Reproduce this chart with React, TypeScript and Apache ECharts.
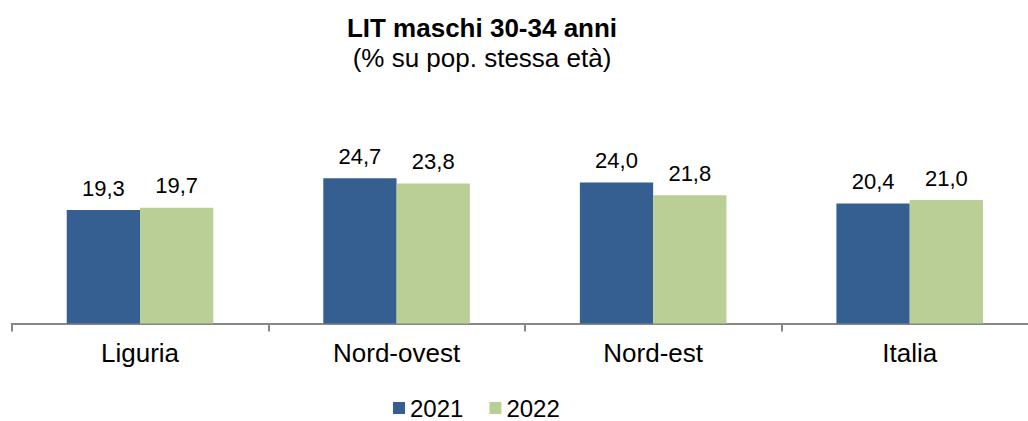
import React, { useEffect, useRef } from "react";
import * as echarts from "echarts";

const categories = ["Liguria", "Nord-ovest", "Nord-est", "Italia"];
const values2021 = [19.3, 24.7, 24.0, 20.4];
const values2022 = [19.7, 23.8, 21.8, 21.0];
const seriesNames = ["2021", "2022"];

const FONT = "'Liberation Sans', Arial, sans-serif";

export default function App() {
  const ref = useRef<HTMLDivElement>(null);
  useEffect(() => {
    if (!ref.current) return;
    const chart = echarts.init(ref.current, null, { renderer: "svg" });
    const fmt = (p: any) => Number(p.value).toFixed(1).replace(".", ",");
    const label = {
      show: true,
      position: "top",
      distance: 11,
      formatter: fmt,
      color: "#000",
      fontSize: 22,
      fontFamily: FONT,
    };
    chart.setOption({
      animation: false,
      backgroundColor: "#fff",
      textStyle: { fontFamily: FONT },
      title: {
        text: "LIT maschi 30-34 anni",
        subtext: "(% su pop. stessa età)",
        left: 477,
        top: 10,
        textAlign: "center",
        itemGap: 4,
        textStyle: { fontSize: 26, lineHeight: 26, fontWeight: "bold", color: "#000", fontFamily: FONT },
        subtextStyle: { fontSize: 26, lineHeight: 26, color: "#000", fontFamily: FONT },
      },
      legend: {
        data: seriesNames,
        left: 393,
        top: 396,
        padding: 0,
        icon: "rect",
        itemWidth: 12,
        itemHeight: 12,
        itemGap: 26,
        textStyle: { fontSize: 24, color: "#000", fontFamily: FONT },
      },
      grid: { left: 11.75, right: 0, top: 147.1, bottom: 97.5, containLabel: false },
      xAxis: {
        type: "category",
        data: categories,
        axisLine: { show: true, lineStyle: { color: "#878787", width: 2 } },
        axisTick: { show: true, length: 8, lineStyle: { color: "#878787", width: 2 } },
        axisLabel: { fontSize: 26, color: "#000", margin: 16, fontFamily: FONT },
      },
      yAxis: {
        type: "value",
        min: 0,
        max: 30,
        show: false,
        splitLine: { show: false },
      },
      series: [
        {
          name: seriesNames[0],
          type: "bar",
          data: values2021,
          barWidth: 73.3,
          barGap: "0%",
          itemStyle: { color: "#355F91" },
          label,
        },
        {
          name: seriesNames[1],
          type: "bar",
          data: values2022,
          barWidth: 73.3,
          barGap: "0%",
          itemStyle: { color: "#B9CF96" },
          label,
        },
      ],
    });
    return () => chart.dispose();
  }, []);
  return (
    <div
      ref={ref}
      style={{ position: "fixed", left: 0, top: 0, width: 1038, height: 421 }}
    />
  );
}
